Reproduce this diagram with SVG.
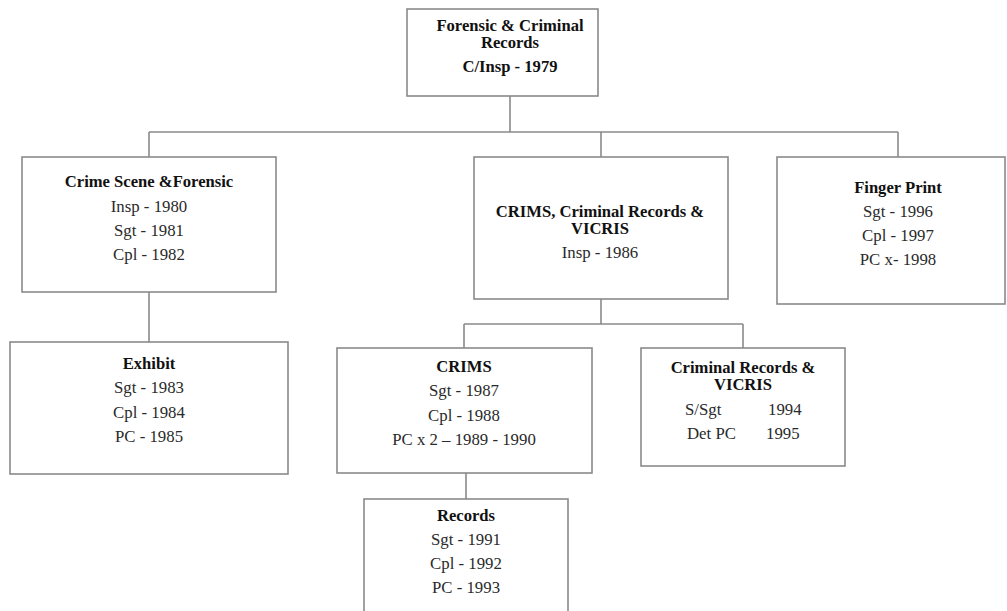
<svg xmlns="http://www.w3.org/2000/svg" width="1007" height="611" viewBox="0 0 1007 611">
  <style>
    .box { fill: #ffffff; stroke: #8a8a8a; stroke-width: 1.6; }
    .wire { fill: none; stroke: #8a8a8a; stroke-width: 1.6; }
    text { font-family: "Liberation Serif", "Times New Roman", serif; font-size: 16.8px; fill: #2a2a2a; text-anchor: middle; }
    .title { font-weight: bold; fill: #111111; font-size: 16.6px; }
    .left { text-anchor: start; }
  </style>
  <rect width="1007" height="611" fill="#ffffff"/>

  <g id="connectors">
    <path class="wire" d="M510 96 V132 M149 132 H898 M149 132 V157 M601 132 V157 M898 132 V157"/>
    <path class="wire" d="M149 292 V342"/>
    <path class="wire" d="M601 299 V324 M464 324 H743 M464 324 V348 M743 324 V348"/>
    <path class="wire" d="M466 473 V499"/>
  </g>

  <g id="forensic-criminal-records">
    <rect class="box" x="407" y="9" width="191" height="87"/>
    <text class="title" x="510" y="30.5">Forensic &amp; Criminal</text>
    <text class="title" x="510" y="48">Records</text>
    <text class="title" x="510" y="72">C/Insp - 1979</text>
  </g>

  <g id="crime-scene-forensic">
    <rect class="box" x="22" y="157" width="254" height="135"/>
    <text class="title" x="149" y="187">Crime Scene &amp;Forensic</text>
    <text x="149" y="212">Insp - 1980</text>
    <text x="149" y="236">Sgt - 1981</text>
    <text x="149" y="260">Cpl - 1982</text>
  </g>

  <g id="crims-criminal-records-vicris">
    <rect class="box" x="474" y="157" width="254" height="142"/>
    <text class="title" x="600" y="217">CRIMS, Criminal Records &amp;</text>
    <text class="title" x="600" y="234">VICRIS</text>
    <text x="600" y="258">Insp - 1986</text>
  </g>

  <g id="finger-print">
    <rect class="box" x="777" y="157" width="228" height="147"/>
    <text class="title" x="898" y="193">Finger Print</text>
    <text x="898" y="217">Sgt - 1996</text>
    <text x="898" y="241">Cpl - 1997</text>
    <text x="898" y="265">PC x- 1998</text>
  </g>

  <g id="exhibit">
    <rect class="box" x="10" y="342" width="278" height="132"/>
    <text class="title" x="149" y="369">Exhibit</text>
    <text x="149" y="393">Sgt - 1983</text>
    <text x="149" y="418">Cpl - 1984</text>
    <text x="149" y="442">PC - 1985</text>
  </g>

  <g id="crims">
    <rect class="box" x="337" y="348" width="255" height="125"/>
    <text class="title" x="464" y="372">CRIMS</text>
    <text x="464" y="396">Sgt - 1987</text>
    <text x="464" y="421">Cpl - 1988</text>
    <text x="464" y="445">PC x 2 – 1989 - 1990</text>
  </g>

  <g id="criminal-records-vicris">
    <rect class="box" x="641" y="348" width="204" height="118"/>
    <text class="title" x="743" y="373">Criminal Records &amp;</text>
    <text class="title" x="743" y="390">VICRIS</text>
    <text class="left" x="685" y="415">S/Sgt</text>
    <text class="left" x="768" y="415">1994</text>
    <text class="left" x="687" y="439">Det PC</text>
    <text class="left" x="766" y="439">1995</text>
  </g>

  <g id="records">
    <rect class="box" x="364" y="499" width="204" height="130"/>
    <text class="title" x="466" y="521">Records</text>
    <text x="466" y="545">Sgt - 1991</text>
    <text x="466" y="569">Cpl - 1992</text>
    <text x="466" y="593">PC - 1993</text>
  </g>
</svg>
